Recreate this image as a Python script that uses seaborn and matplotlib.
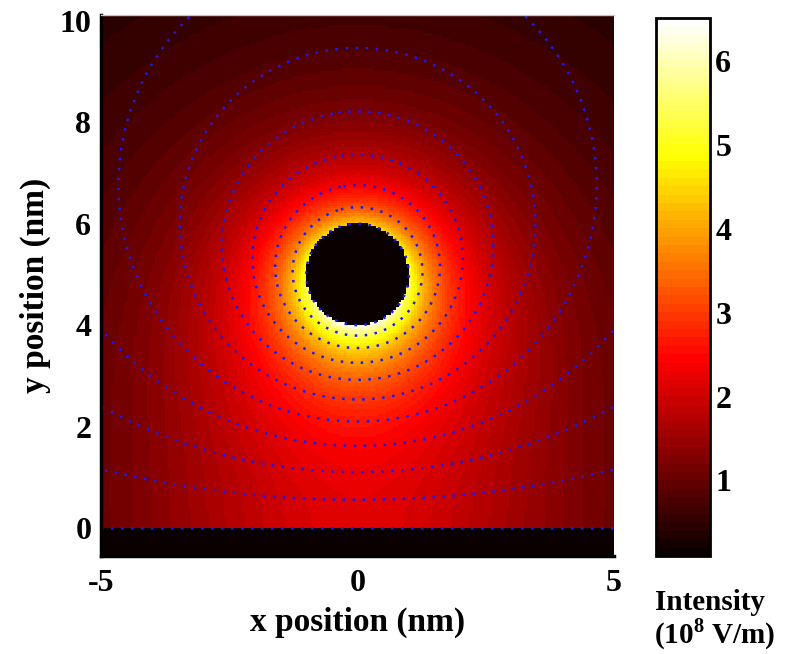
import numpy as np
import pandas as pd
import matplotlib
matplotlib.use("Agg")
import matplotlib.pyplot as plt
import seaborn as sns

# ---------------- values ----------------
sphere_center = [0.0, 5.0]      # nm
sphere_radius = 1.0             # nm
substrate_top = 0.0             # nm
peak_intensity = 6.51           # 1e8 V/m, at the bottom of the sphere
floor_intensity = 0.10          # inside sphere / substrate
potential_levels = [0.0, 0.1, 0.2, 0.3, 0.4, 0.5, 0.6, 0.7, 0.8, 0.9, 1.0]
x_range = [-5.0, 5.0]
y_range = [-0.55, 10.11]
x_ticks = [-5, 0, 5]
y_ticks = [0, 2, 4, 6, 8, 10]
cbar_ticks = [1, 2, 3, 4, 5, 6]
cbar_range = [0.10, 6.51]
nx, ny = 200, 213

# ---------------- field (sphere above grounded substrate) ----------------
dx = (x_range[1] - x_range[0]) / nx
dy = (y_range[1] - y_range[0]) / ny
xc = x_range[0] + dx * (np.arange(nx) + 0.5)
yc = y_range[1] - dy * (np.arange(ny) + 0.5)          # top row first
X, Y = np.meshgrid(xc, yc)

h = sphere_center[1] - substrate_top
a = np.sqrt(h ** 2 - sphere_radius ** 2)
r1 = np.hypot(X - sphere_center[0], Y - (substrate_top + a))
r2 = np.hypot(X - sphere_center[0], Y - (substrate_top - a))
q_s = (a + h - sphere_radius) / (a - h + sphere_radius)
phi = np.log(r2 / r1) / np.log(q_s)                   # normalised potential
r1b = a - (h - sphere_radius)
r2b = a + (h - sphere_radius)
E = peak_intensity * (r1b * r2b) / (r1 * r2)
inside = (np.hypot(X - sphere_center[0], Y - sphere_center[1]) < sphere_radius) | (Y < substrate_top)
E = np.where(inside, floor_intensity, E)
field = pd.DataFrame(E, index=np.round(yc, 3), columns=np.round(xc, 3))

# ---------------- style ----------------
sns.set_theme(style="white")
plt.rcParams["font.family"] = ["Liberation Serif", "DejaVu Serif"]
plt.rcParams["font.weight"] = "bold"
plt.rcParams["text.color"] = "black"
plt.rcParams["axes.labelcolor"] = "black"
plt.rcParams["mathtext.fontset"] = "custom"
plt.rcParams["mathtext.rm"] = "Liberation Serif:bold"
plt.rcParams["mathtext.bf"] = "Liberation Serif:bold"

fig = plt.figure(figsize=(7.93, 6.54), dpi=100)
ax = fig.add_axes([0.1274, 0.1498, 0.647, 0.827])
cax = fig.add_axes([0.827, 0.1498, 0.068, 0.8226])

cmap = plt.get_cmap("hot", 64)
sns.heatmap(field, ax=ax, cmap=cmap, vmin=cbar_range[0], vmax=cbar_range[1],
            cbar_ax=cax, xticklabels=False, yticklabels=False, linewidths=0,
            rasterized=True)

# contours of the potential (same index coordinates as the heatmap cells)
ax.contour(np.arange(nx) + 0.5, np.arange(ny) + 0.5, phi, levels=potential_levels,
           colors="#1a1aee", linewidths=1.8, linestyles=[(0, (1, 3.0))])

ax.set_xlim(0, nx)
ax.set_ylim(ny, 0)

ax.set_xticks([(v - x_range[0]) / dx for v in x_ticks])
ax.set_xticklabels([str(v) for v in x_ticks], fontsize=23, fontweight="bold")
ax.set_yticks([(y_range[1] - v) / dy for v in y_ticks])
ax.set_yticklabels([str(v) for v in y_ticks], fontsize=23, fontweight="bold", rotation=0)
ax.tick_params(axis="x", length=0, pad=9, colors="black")
ax.tick_params(axis="y", length=0, pad=7, colors="black")
ax.set_xlabel("x position (nm)", fontsize=24, fontweight="bold", labelpad=7, color="black")
ax.set_ylabel("y position (nm)", fontsize=24, fontweight="bold", labelpad=6, color="black")

for side in ["left", "bottom"]:
    ax.spines[side].set_visible(True)
    ax.spines[side].set_color("black")
    ax.spines[side].set_linewidth(2.5)
ax.spines["top"].set_visible(True)
ax.spines["top"].set_color("#c8c8c8")
ax.spines["top"].set_linewidth(1)
ax.spines["right"].set_visible(False)

# colorbar styling
cb = ax.collections[0].colorbar
cb.outline.set_visible(True)
cb.outline.set_linewidth(2)
cb.outline.set_edgecolor("black")
cb.set_ticks(cbar_ticks)
cb.set_ticklabels([str(v) for v in cbar_ticks])
cax.tick_params(axis="y", which="both", direction="in", left=True, right=True,
                length=5, width=1.5, colors="black", labelsize=23, pad=4)
for t in cax.get_yticklabels():
    t.set_fontweight("bold")

fig.text(655 / 793, 1 - 603 / 654, "Intensity", ha="left", va="center",
         fontsize=21, fontweight="bold", color="black")
fig.text(654 / 793, 1 - 634 / 654, r"(10$^{8}$ V/m)", ha="left", va="center",
         fontsize=21, fontweight="bold", color="black")

fig.savefig("out.png", dpi=100)
